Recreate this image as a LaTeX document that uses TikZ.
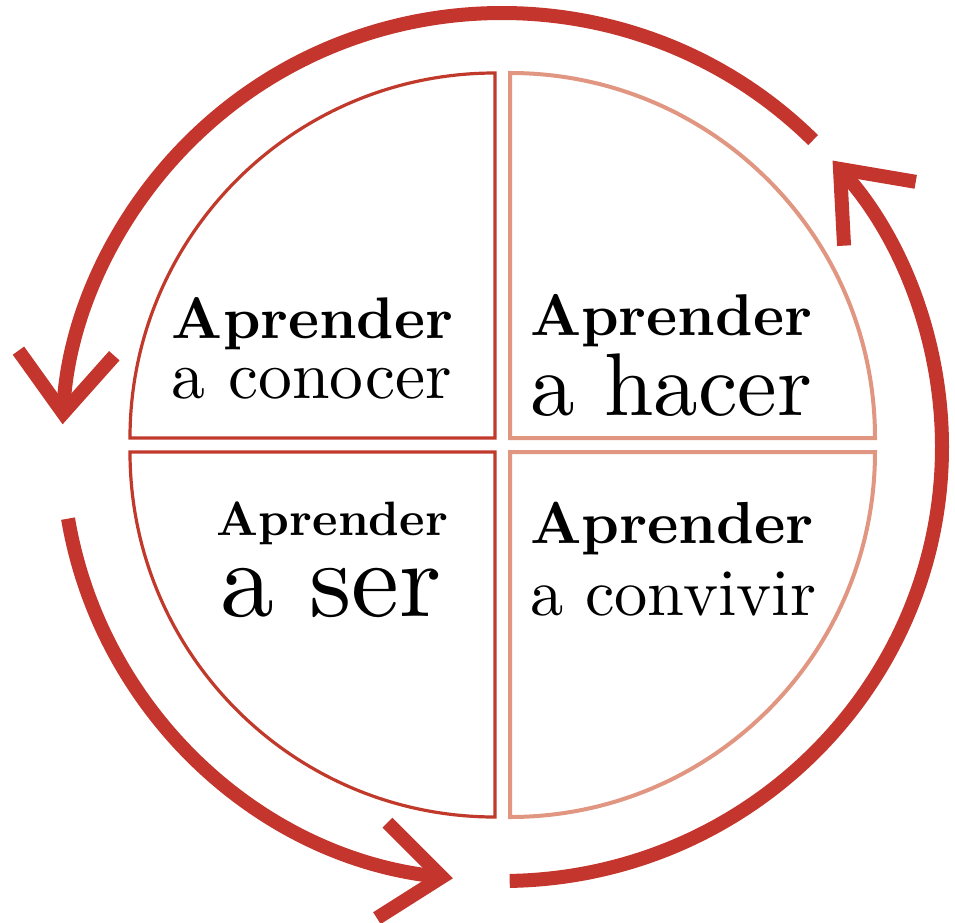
\documentclass[tikz,border=0pt]{standalone}
\usepackage{graphicx}
\usetikzlibrary{arrows.meta}

\definecolor{cyclered}{RGB}{196,54,45}
\definecolor{sectorred}{RGB}{192,57,43}
\definecolor{sectorpink}{RGB}{224,150,128}

\newcommand{\fitw}[2]{\resizebox{#1pt}{!}{#2}}

\begin{document}
\begin{tikzpicture}[x=1pt,y=1pt,
            sector/.style={line width=3.2pt,line join=miter},
            cyc/.style={draw=cyclered,line width=14pt,-{Straight Barb[length=60pt,width=96pt]}},
            lab/.style={anchor=base west,inner sep=0,outer sep=0}
          ]
          \useasboundingbox (-502,447) rectangle (453,-475);

          %sectors
          \draw[sector,sectorred] (-7,9) -- ++(-365,0) arc[start angle=180,end angle=90,radius=365] -- cycle;
          \draw[sector,sectorpink,line width=4pt] (8,9) -- ++(365,0) arc[start angle=0,end angle=90,radius=365] -- cycle;
          \draw[sector,sectorred] (-7,-5) -- ++(-365,0) arc[start angle=180,end angle=270,radius=365] -- cycle;
          \draw[sector,sectorpink,line width=4pt] (8,-5) -- ++(365,0) arc[start angle=0,end angle=-90,radius=365] -- cycle;

          %cycle
          \draw[cyc] (45:440 and 434) arc[start angle=45,end angle=177,x radius=440,y radius=434];
          \draw[cyc] (189.5:440 and 434) arc[start angle=189.5,end angle=263.6,x radius=440,y radius=434];
          \draw[cyc] (271:440 and 434) arc[start angle=271,end angle=401.3,x radius=440,y radius=434];

          %labels
          \node[lab] (conocer1) at (-330,109) {\fitw{281}{\bfseries Aprender}};
          \node[lab] (conocer2) at (-330,49) {\fitw{280}{a conocer}};
          \node[lab] (hacer1) at (28,112) {\fitw{282}{\bfseries Aprender}};
          \node[lab] (hacer2) at (28,32) {\fitw{282}{a hacer}};
          \node[lab] (ser1) at (-285,-88) {\fitw{231}{\bfseries Aprender}};
          \node[lab] (ser2) at (-282,-169) {\fitw{222}{a ser}};
          \node[lab] (convivir1) at (28,-96) {\fitw{284}{\bfseries Aprender}};
          \node[lab] (convivir2) at (28,-168) {\fitw{286}{a convivir}};
\end{tikzpicture}
\end{document}
